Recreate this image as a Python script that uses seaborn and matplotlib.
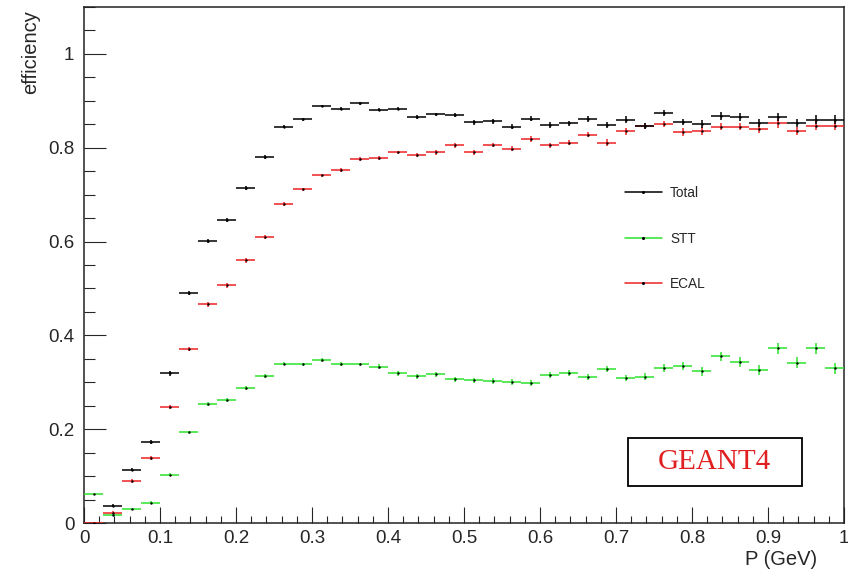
import numpy as np
import pandas as pd
import matplotlib.pyplot as plt
import seaborn as sns
from matplotlib.lines import Line2D
from matplotlib.patches import Rectangle
from matplotlib.ticker import MultipleLocator, FuncFormatter

# binning of the momentum axis (40 bins, 0.025 GeV each)
p_min = 0.0
bin_width = 0.025
n_bins = 40

# efficiency per bin
total = [np.nan, 0.037, 0.114, 0.173, 0.319, 0.490, 0.601, 0.646, 0.714, 0.780,
         0.845, 0.861, 0.889, 0.883, 0.895, 0.881, 0.883, 0.865, 0.871, 0.870,
         0.854, 0.856, 0.845, 0.862, 0.849, 0.852, 0.861, 0.849, 0.860, 0.846,
         0.874, 0.855, 0.851, 0.868, 0.866, 0.853, 0.866, 0.853, 0.860, 0.860]
stt = [0.062, 0.016, 0.029, 0.043, 0.103, 0.193, 0.254, 0.262, 0.287, 0.313,
       0.340, 0.338, 0.347, 0.339, 0.338, 0.333, 0.319, 0.313, 0.317, 0.306,
       0.304, 0.303, 0.301, 0.299, 0.315, 0.320, 0.311, 0.328, 0.309, 0.312,
       0.330, 0.335, 0.323, 0.355, 0.343, 0.326, 0.372, 0.342, 0.372, 0.330]
ecal = [0.000, 0.022, 0.090, 0.138, 0.247, 0.371, 0.466, 0.507, 0.560, 0.610,
        0.680, 0.711, 0.741, 0.753, 0.776, 0.778, 0.790, 0.785, 0.790, 0.805,
        0.790, 0.806, 0.798, 0.819, 0.805, 0.811, 0.828, 0.811, 0.835, 0.846,
        0.851, 0.833, 0.836, 0.845, 0.845, 0.840, 0.852, 0.836, 0.847, 0.847]

# statistical errors (half height of the vertical bars)
total_err = [0, .003, .004, .004, .005, .005, .005, .005, .004, .004,
             .004, .003, .003, .003, .003, .003, .003, .004, .004, .004,
             .005, .005, .005, .005, .006, .006, .006, .006, .007, .007,
             .007, .007, .008, .008, .008, .008, .009, .009, .009, .009]
stt_err = [.003, .002, .002, .003, .003, .003, .004, .004, .004, .004,
           .004, .004, .004, .004, .004, .005, .005, .005, .005, .005,
           .005, .006, .006, .006, .006, .007, .007, .007, .007, .008,
           .008, .008, .009, .009, .010, .010, .011, .011, .012, .012]
ecal_err = [.002, .003, .004, .004, .005, .005, .005, .005, .005, .005,
            .005, .004, .004, .004, .004, .004, .004, .004, .005, .005,
            .005, .005, .005, .006, .006, .006, .006, .007, .007, .007,
            .007, .008, .008, .008, .008, .009, .009, .009, .010, .010]

series = ['Total', 'STT', 'ECAL']
colors = {'Total': 'black', 'STT': '#2ee22e', 'ECAL': '#ee2222'}

p = p_min + bin_width * (np.arange(n_bins) + 0.5)
df = pd.concat([
    pd.DataFrame({'P': p, 'eff': v, 'err': e, 'det': name})
    for name, v, e in [('Total', total, total_err), ('STT', stt, stt_err), ('ECAL', ecal, ecal_err)]
], ignore_index=True)

sns.set_style('ticks')
plt.rcParams['font.family'] = ['Liberation Sans', 'DejaVu Sans']

fig, ax = plt.subplots(figsize=(8.48, 5.71), dpi=100)
fig.subplots_adjust(left=84/848, right=844/848, top=1-7/571, bottom=1-523/571)

# draw ECAL first, total on top
for name in ['ECAL', 'STT', 'Total']:
    d = df[df.det == name]
    ax.errorbar(d.P, d.eff, xerr=bin_width/2, yerr=d.err, fmt='none',
                ecolor=colors[name], elinewidth=1.1, capsize=0, zorder=3)
sns.scatterplot(data=df.dropna(), x='P', y='eff', color='black', s=3, linewidth=0,
                ax=ax, zorder=4, legend=False)

ax.set_xlim(0, 1)
ax.set_ylim(0, 1.1)
ax.xaxis.set_major_locator(MultipleLocator(0.1))
ax.xaxis.set_minor_locator(MultipleLocator(0.02))
ax.yaxis.set_major_locator(MultipleLocator(0.2))
ax.yaxis.set_minor_locator(MultipleLocator(0.05))
fmt = FuncFormatter(lambda v, pos: '%g' % round(v, 2))
ax.xaxis.set_major_formatter(fmt)
ax.yaxis.set_major_formatter(fmt)

ax.tick_params(axis='x', which='major', direction='in', length=11.5, width=0.8,
               labelsize=13.5, pad=5)
ax.tick_params(axis='x', which='minor', direction='in', length=5, width=0.8)
ax.tick_params(axis='y', which='major', direction='in', length=16, width=0.8,
               labelsize=13.5, pad=7)
ax.tick_params(axis='y', which='minor', direction='in', length=8, width=0.8)
for s in ax.spines.values():
    s.set_linewidth(1.1)
    s.set_color('#222222')

ax.set_xlabel('P (GeV)', loc='right', fontsize=14.5)
ax.xaxis.set_label_coords((817 - 84) / 760, -0.052)
ax.set_ylabel('efficiency', loc='top', fontsize=14.5)
ax.yaxis.set_label_coords(-0.058, 0.994)

handles = [Line2D([], [], color=colors[n], lw=1.1, marker='o', markersize=1.2,
                  markerfacecolor='black', markeredgecolor='black') for n in series]
ax.legend(handles, series, loc='upper left', bbox_to_anchor=(0.712, 0.653),
          frameon=False, fontsize=9.8, handlelength=2.7, handletextpad=0.6,
          labelspacing=2.32, borderpad=0, borderaxespad=0, numpoints=1)

ax.add_patch(Rectangle((0.7154, 0.0723), 0.2297, 0.093, transform=ax.transAxes,
                       fill=False, edgecolor='black', lw=1.3, zorder=5))
ax.text(0.830, 0.1188, 'GEANT4', transform=ax.transAxes, ha='center', va='center',
        color='#e02020', fontsize=21, family=['Liberation Serif', 'DejaVu Serif'])

fig.savefig('out.png', dpi=100)
